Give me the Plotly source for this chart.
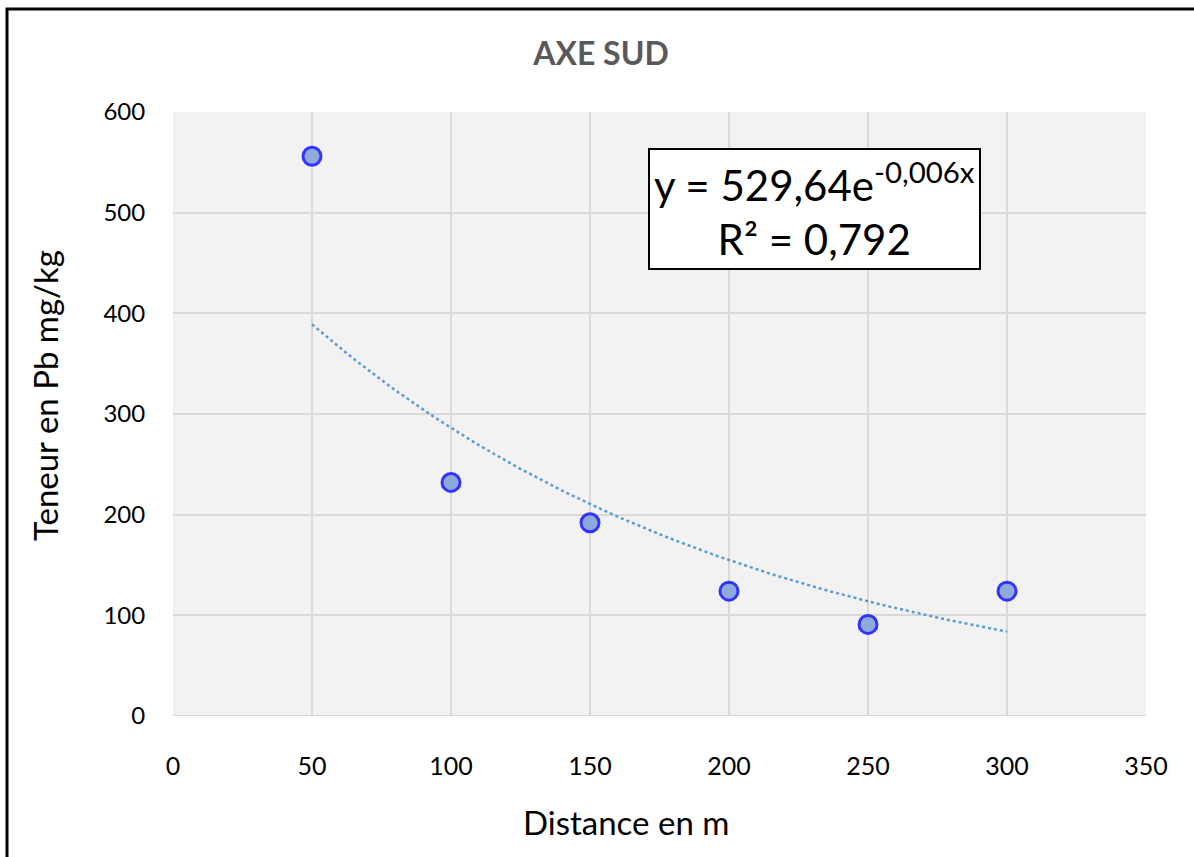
import numpy as np
import plotly.graph_objects as go

distance = [50, 100, 150, 200, 250, 300]
teneur_pb = [556, 232, 192, 124, 91, 124]
x_ticks = [0, 50, 100, 150, 200, 250, 300, 350]
y_ticks = [0, 100, 200, 300, 400, 500, 600]
title_text = "AXE SUD"
x_title = "Distance en m"
y_title = "Teneur en Pb mg/kg"
equation_text = "y = 529,64e<sup>-0,006x</sup><br>R² = 0,792"

# exponential trendline fitted on the data (as Excel does)
b, ln_a = np.polyfit(distance, np.log(teneur_pb), 1)
x_fit = np.linspace(min(distance), max(distance), 100)
y_fit = np.exp(ln_a) * np.exp(b * x_fit)

FONT = "Lato, 'Open Sans', sans-serif"

fig = go.Figure()
fig.add_trace(go.Scatter(
    x=x_fit, y=y_fit, mode="lines",
    line=dict(color="#5B9BD5", width=2.5, dash="dot"),
    hoverinfo="skip", showlegend=False,
))
fig.add_trace(go.Scatter(
    x=distance, y=teneur_pb, mode="markers",
    marker=dict(size=18, color="#8EA9DB", line=dict(color="#3333FF", width=3)),
    showlegend=False,
))

fig.add_annotation(
    x=230.9, y=503.6, xref="x", yref="y",
    text=equation_text, showarrow=False,
    font=dict(family=FONT, size=42, color="#000000"),
    bgcolor="#FFFFFF", bordercolor="#000000", borderwidth=2, borderpad=4,
    align="center",
)

# axis titles (placed like the Excel chart, centred on the chart area)
fig.add_annotation(
    x=(626 - 173) / 973, y=(716 - 822) / 604, xref="paper", yref="paper",
    text=x_title, showarrow=False, xanchor="center", yanchor="middle",
    font=dict(family=FONT, size=33, color="#000000"),
)
fig.add_annotation(
    x=(45 - 173) / 973, y=(716 - 396) / 604, xref="paper", yref="paper",
    text=y_title, showarrow=False, textangle=-90, xanchor="center", yanchor="middle",
    font=dict(family=FONT, size=33, color="#000000"),
)

# outer frame
fig.add_shape(type="rect", xref="paper", yref="paper",
              x0=-0.1706, x1=1.06, y0=-0.26, y1=1.1705,
              line=dict(color="#000000", width=3), layer="below")

fig.update_layout(
    width=1194, height=857,
    margin=dict(l=173, r=48, t=112, b=141),
    paper_bgcolor="#FFFFFF", plot_bgcolor="#F2F2F2",
    title=dict(text=f"<b>{title_text}</b>", x=601 / 1194, xanchor="center",
               y=1 - 54 / 857, yanchor="middle",
               font=dict(family=FONT, size=32, color="#595959")),
    font=dict(family=FONT, color="#000000"),
    xaxis=dict(
        range=[0, 350], tickvals=x_ticks, ticks="outside", ticklen=28,
        tickcolor="rgba(0,0,0,0)", showline=False,
        gridcolor="#D9D9D9", gridwidth=2, zeroline=False,
        tickfont=dict(size=25, color="#000000"),
    ),
    yaxis=dict(
        range=[0, 600], tickvals=y_ticks, ticks="outside", ticklen=22,
        tickcolor="rgba(0,0,0,0)", showline=False,
        gridcolor="#D9D9D9", gridwidth=2, zeroline=False,
        tickfont=dict(size=24, color="#000000"),
    ),
)
fig.add_shape(type="line", xref="x", yref="y", x0=0, x1=350, y0=0, y1=0,
              line=dict(color="#D9D9D9", width=2), layer="below")

fig.write_html("out.html", config={"displayModeBar": False},
               post_script="document.body.style.margin='0';document.body.style.overflow='hidden';")
